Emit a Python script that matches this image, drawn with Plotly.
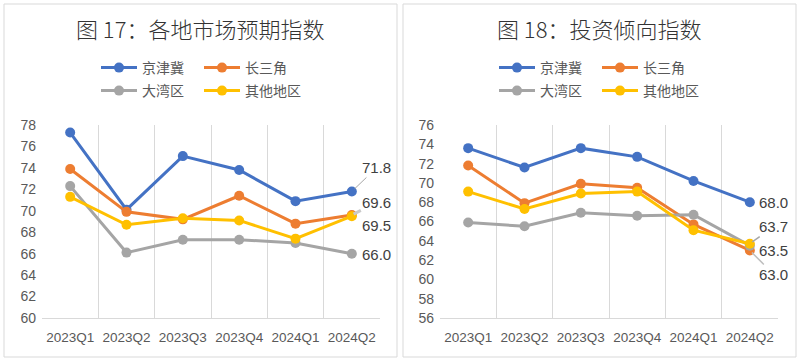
import plotly.graph_objects as go

quarters = ["2023Q1", "2023Q2", "2023Q3", "2023Q4", "2024Q1", "2024Q2"]
series_names = ["京津冀", "长三角", "大湾区", "其他地区"]

# 图17 各地市场预期指数
expect_jjj = [77.3, 70.1, 75.1, 73.8, 70.9, 71.8]
expect_csj = [73.9, 69.9, 69.2, 71.4, 68.8, 69.6]
expect_dwq = [72.3, 66.1, 67.3, 67.3, 67.0, 66.0]
expect_qt = [71.3, 68.7, 69.3, 69.1, 67.4, 69.5]

# 图18 投资倾向指数
invest_jjj = [73.6, 71.6, 73.6, 72.7, 70.2, 68.0]
invest_csj = [71.8, 67.9, 69.9, 69.5, 65.7, 63.0]
invest_dwq = [65.9, 65.5, 66.9, 66.6, 66.7, 63.5]
invest_qt = [69.1, 67.3, 68.9, 69.1, 65.1, 63.7]

left_ticks = list(range(60, 80, 2))
right_ticks = list(range(56, 78, 2))

title_left = "图 17：各地市场预期指数"
title_right = "图 18：投资倾向指数"

colors = ["#4472C4", "#ED7D31", "#A5A5A5", "#FFC000"]
FONT = "Liberation Sans, Arial, Noto Sans CJK SC"
CJK = "Noto Sans CJK SC, Microsoft YaHei, sans-serif"
TICK_COLOR = "#595959"
LABEL_COLOR = "#404040"

fig = go.Figure()

left_data = [expect_jjj, expect_csj, expect_dwq, expect_qt]
right_data = [invest_jjj, invest_csj, invest_dwq, invest_qt]
left_legends = ["legend", "legend", "legend2", "legend2"]
right_legends = ["legend3", "legend3", "legend4", "legend4"]

for i, name in enumerate(series_names):
    fig.add_trace(go.Scatter(
        x=quarters, y=left_data[i], name=name, mode="lines+markers",
        line=dict(color=colors[i], width=3), marker=dict(color=colors[i], size=10),
        xaxis="x", yaxis="y", legend=left_legends[i]))
for i, name in enumerate(series_names):
    fig.add_trace(go.Scatter(
        x=quarters, y=right_data[i], name=name, mode="lines+markers",
        line=dict(color=colors[i], width=3), marker=dict(color=colors[i], size=10),
        xaxis="x2", yaxis="y2", legend=right_legends[i]))

grid = "#D9D9D9"
xcommon = dict(type="category", showgrid=True, gridcolor=grid, gridwidth=1,
               tickson="boundaries", showline=True, linecolor=grid,
               ticks="", ticklabelstandoff=7,
               tickangle=0, automargin=False,
               tickfont=dict(family=FONT, size=13.5, color=TICK_COLOR),
               fixedrange=True, range=[-0.5, 5.5])
ycommon = dict(showgrid=False, zeroline=False, showline=False, dtick=2,
               ticks="", ticklabelstandoff=5,
               automargin=False, fixedrange=True,
               tickfont=dict(family=FONT, size=14, color=TICK_COLOR))

y_top = 1 - 125 / 362
y_bot = 1 - 318 / 362

fig.update_layout(
    width=800, height=362, autosize=False,
    margin=dict(l=0, r=0, t=0, b=0, pad=0, autoexpand=False),
    paper_bgcolor="white", plot_bgcolor="white",
    font=dict(family=FONT, color=TICK_COLOR),
    xaxis=dict(domain=[42 / 800, 380 / 800], anchor="y", **xcommon),
    yaxis=dict(domain=[y_bot, y_top], anchor="x", range=[60, 78],
               tickvals=left_ticks, **ycommon),
    xaxis2=dict(domain=[440 / 800, 778 / 800], anchor="y2", **xcommon),
    yaxis2=dict(domain=[y_bot, y_top], anchor="x2", range=[56, 76],
                tickvals=right_ticks, **ycommon),
)

leg_common = dict(orientation="h", xanchor="left", yanchor="middle",
                  entrywidth=52, itemwidth=36, bgcolor="rgba(0,0,0,0)",
                  font=dict(family=CJK, size=14, color=TICK_COLOR),
                  traceorder="normal")
fig.update_layout(
    legend=dict(x=96 / 800, y=1 - 68 / 362, **leg_common),
    legend2=dict(x=96 / 800, y=1 - 91 / 362, **leg_common),
    legend3=dict(x=494 / 800, y=1 - 68 / 362, **leg_common),
    legend4=dict(x=494 / 800, y=1 - 91 / 362, **leg_common),
)

# Panel borders
for x0, x1 in [(4, 397), (403, 796)]:
    fig.add_shape(type="rect", xref="paper", yref="paper",
                  x0=x0 / 800, x1=x1 / 800, y0=1 - 357 / 362, y1=1 - 4 / 362,
                  line=dict(color="#D9D9D9", width=1), fillcolor="rgba(0,0,0,0)",
                  layer="below")

# Titles
title_font = dict(family=CJK, size=22, color="#333333", weight=300)
fig.add_annotation(text=title_left, xref="paper", yref="paper", x=200 / 800,
                   y=1 - 28 / 362, showarrow=False, xanchor="center", yanchor="middle",
                   font=title_font)
fig.add_annotation(text=title_right, xref="paper", yref="paper", x=599 / 800,
                   y=1 - 28 / 362, showarrow=False, xanchor="center", yanchor="middle",
                   font=title_font)

lab_font = dict(family=FONT, size=15, color=LABEL_COLOR)
last = quarters[-1]

# Left labels
fig.add_annotation(x=last, y=expect_jjj[-1], xref="x", yref="y", text=f"{expect_jjj[-1]:.1f}",
                   showarrow=True, ax=25, ay=-24, arrowhead=0, arrowwidth=1,
                   arrowcolor="#A6A6A6", standoff=4, font=lab_font)
fig.add_annotation(x=last, y=expect_csj[-1], xref="x", yref="y", text=f"{expect_csj[-1]:.1f}",
                   showarrow=True, ax=25, ay=-13, arrowhead=0, arrowwidth=3,
                   arrowcolor="#C9C9C9", standoff=2, font=lab_font)
fig.add_annotation(x=last, y=expect_qt[-1], xref="x", yref="y", text=f"{expect_qt[-1]:.1f}",
                   showarrow=False, xshift=25, yshift=-9, font=lab_font)
fig.add_annotation(x=last, y=expect_dwq[-1], xref="x", yref="y", text=f"{expect_dwq[-1]:.1f}",
                   showarrow=False, xshift=25, yshift=-1, font=lab_font)

# Right labels
fig.add_annotation(x=last, y=invest_jjj[-1], xref="x2", yref="y2", text=f"{invest_jjj[-1]:.1f}",
                   showarrow=False, xshift=24, yshift=0, font=lab_font)
fig.add_annotation(x=last, y=invest_qt[-1], xref="x2", yref="y2", text=f"{invest_qt[-1]:.1f}",
                   showarrow=True, ax=24, ay=-17, arrowhead=0, arrowwidth=1.5,
                   arrowcolor="#A6A6A6", standoff=3, font=lab_font)
fig.add_annotation(x=last, y=invest_dwq[-1], xref="x2", yref="y2", text=f"{invest_dwq[-1]:.1f}",
                   showarrow=False, xshift=24, yshift=-5, font=lab_font)
fig.add_annotation(x=last, y=invest_csj[-1], xref="x2", yref="y2", text=f"{invest_csj[-1]:.1f}",
                   showarrow=True, ax=24, ay=24, arrowhead=0, arrowwidth=1.5,
                   arrowcolor="#BFBFBF", standoff=3, font=lab_font)

fig.write_html("out.html", config={"displayModeBar": False},
               post_script="document.body.style.margin='0';")
